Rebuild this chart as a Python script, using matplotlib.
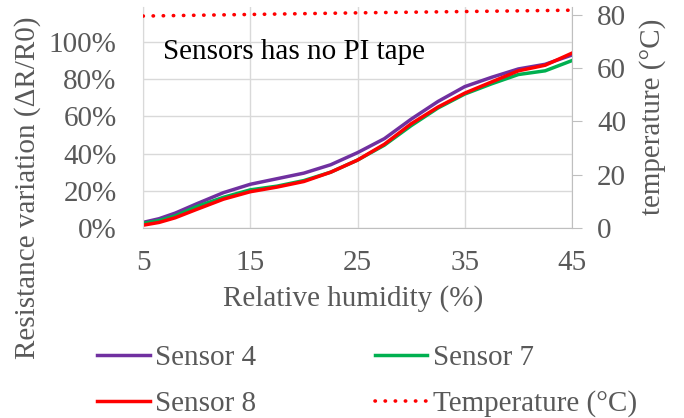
import matplotlib
matplotlib.use("Agg")
import matplotlib.pyplot as plt
from matplotlib.ticker import PercentFormatter

# relative humidity (%) and resistance variation (fraction)
rh = [5, 6.5, 8, 10, 12.5, 15, 17.5, 20, 22.5, 25, 27.5, 30, 32.5, 35, 37.5, 40, 42.5, 45]
sensor4 = [0.03, 0.05, 0.08, 0.13, 0.19, 0.235, 0.265, 0.295, 0.34, 0.405, 0.48, 0.585, 0.68, 0.76, 0.81, 0.855, 0.88, 0.93]
sensor7 = [0.025, 0.04, 0.065, 0.115, 0.165, 0.205, 0.225, 0.255, 0.30, 0.365, 0.445, 0.55, 0.645, 0.72, 0.775, 0.825, 0.845, 0.90]
sensor8 = [0.015, 0.03, 0.055, 0.10, 0.155, 0.195, 0.22, 0.25, 0.30, 0.365, 0.45, 0.56, 0.65, 0.725, 0.785, 0.845, 0.875, 0.94]
temp_rh = [5, 15, 25, 35, 45]
temperature = [79.6, 80.2, 80.8, 81.3, 81.8]

plt.rcParams["font.family"] = ["Liberation Serif", "DejaVu Serif"]
gray = "#595959"
fs = 21

fig = plt.figure(figsize=(6.84, 4.18), dpi=100)
ax = fig.add_axes([143 / 684, 1 - 228 / 418, 429 / 684, 221 / 418])
ax2 = ax.twinx()

l4, = ax.plot(rh, sensor4, color="#7030A0", lw=2.5, label="Sensor 4")
l7, = ax.plot(rh, sensor7, color="#00B050", lw=2.5, label="Sensor 7")
l8, = ax.plot(rh, sensor8, color="#FF0000", lw=2.5, label="Sensor 8")
lt, = ax2.plot(temp_rh, temperature, color="#FF0000", lw=2.6, ls=(0, (0.1, 2.7)),
               dash_capstyle="round", label="Temperature (°C)")

ax.set_xlim(5, 45)
ax.set_ylim(0, 1.188)
ax.set_xticks([5, 15, 25, 35, 45])
ax.set_yticks([0, 0.2, 0.4, 0.6, 0.8, 1.0])
ax.yaxis.set_major_formatter(PercentFormatter(1.0, decimals=0))
ax.grid(True, color="#D9D9D9", lw=1)
ax.set_axisbelow(True)
ax.tick_params(axis="y", length=0, labelsize=fs, labelcolor=gray, pad=19)
ax.tick_params(axis="x", length=0, labelsize=fs, labelcolor=gray, pad=16)

ax2.set_ylim(0, 83)
ax2.set_yticks([0, 20, 40, 60, 80])
ax2.tick_params(axis="y", length=7, color="#BFBFBF", labelsize=fs, labelcolor=gray, pad=11)

for a in (ax, ax2):
    for s in a.spines.values():
        s.set_visible(False)
ax.spines["bottom"].set_visible(True)
ax.spines["bottom"].set_color("#BFBFBF")
ax.spines["left"].set_visible(True)
ax.spines["left"].set_color("#D9D9D9")
ax2.spines["right"].set_visible(True)
ax2.spines["right"].set_color("#BFBFBF")

ax.set_xlabel("Relative humidity (%)", fontsize=fs, color=gray)
ax.xaxis.set_label_coords(0.49, -0.26)
fig.text(28 / 684, 1 - 188 / 418, "Resistance variation (ΔR/R0)", rotation=90,
         ha="center", va="center", fontsize=fs, color=gray)
fig.text(653 / 684, 1 - 117 / 418, "temperature (°C)", rotation=90,
         ha="center", va="center", fontsize=fs, color=gray)

ax.text(6.85, 0.946, "Sensors has no PI tape", fontsize=21, color="black", va="center")

fig.legend(handles=[l4, l8, l7, lt], ncol=2, loc="center left",
           bbox_to_anchor=(97 / 684, 1 - 381 / 418), frameon=False, fontsize=fs,
           labelcolor=gray, handlelength=1.8, handletextpad=0.2,
           columnspacing=4.05, labelspacing=0.66, borderpad=0, borderaxespad=0)

fig.savefig("out.png", dpi=100)
